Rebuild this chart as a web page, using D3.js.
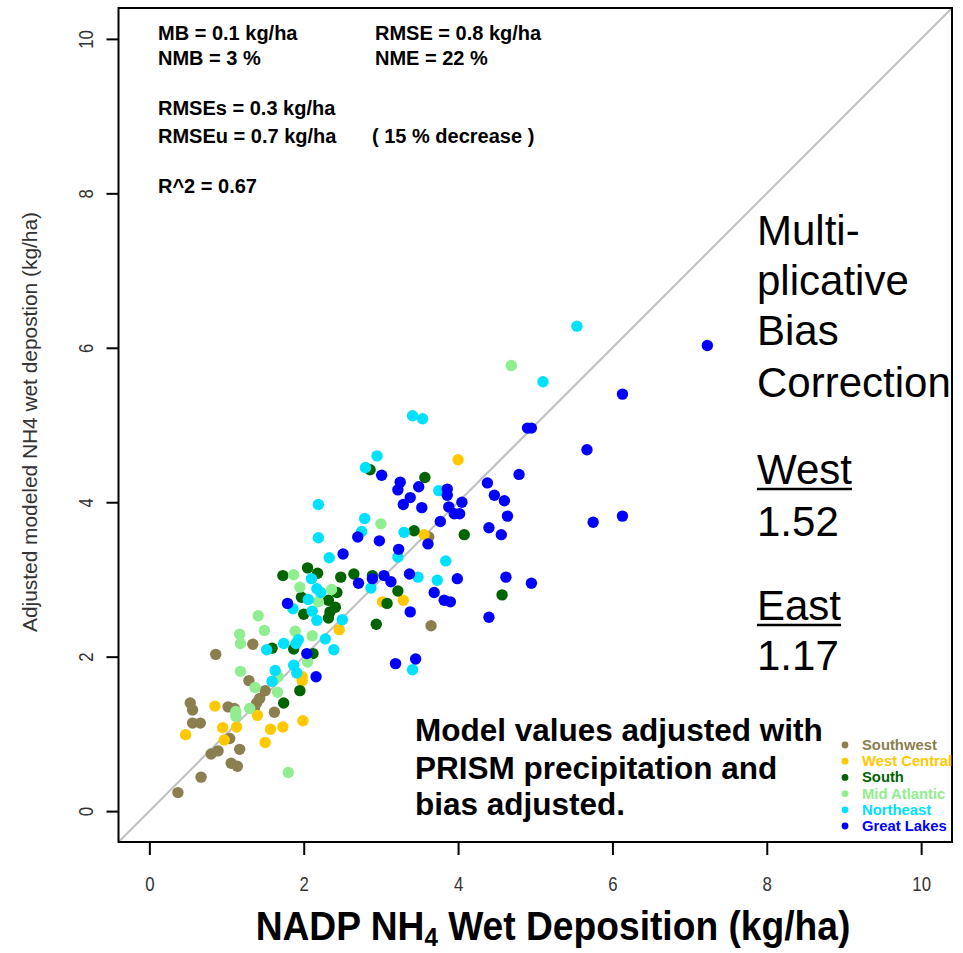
<!DOCTYPE html>
<html>
<head>
<meta charset="utf-8">
<script src="https://cdn.jsdelivr.net/npm/d3@7"></script>
<style>
  html, body { margin: 0; padding: 0; background: #fff; }
  svg { display: block; }
  text { font-family: "Liberation Sans", Arial, sans-serif; }
</style>
</head>
<body>
<svg id="chart" width="963" height="953"></svg>
<script>
// ---------------- data ----------------
const regions = ["Southwest", "West Central", "South", "Mid Atlantic", "Northeast", "Great Lakes"];
const regionColors = ["#8B7F50", "#FFC800", "#006400", "#90EE90", "#00E0FF", "#0000FF"];

const southwest = [[0.86,2.03],[1.34,2.16],[1.29,1.69],[1.50,1.56],[1.43,1.46],[1.39,1.40],[1.36,1.33],[1.62,1.28],[0.53,1.40],[0.56,1.31],[1.02,1.35],[1.10,1.33],[0.56,1.14],[0.66,1.14],[1.04,0.94],[1.17,0.80],[0.80,0.74],[0.89,0.78],[1.06,0.62],[1.14,0.58],[0.67,0.44],[0.37,0.24],[3.65,2.40],[3.62,3.55]];
const westCentral = [[4.00,4.55],[3.56,3.58],[3.02,2.71],[3.29,2.73],[2.46,2.35],[1.98,1.74],[1.98,1.69],[1.40,1.24],[0.85,1.36],[0.47,0.99],[0.95,1.08],[1.13,1.09],[1.57,1.06],[1.73,1.09],[1.99,1.17],[0.97,0.92],[1.50,0.89]];
const south = [[3.57,4.32],[2.86,4.42],[3.43,3.63],[4.08,3.58],[4.57,2.80],[2.94,2.42],[3.22,2.85],[3.08,2.69],[2.89,3.05],[2.65,3.07],[2.48,3.03],[2.05,3.15],[2.18,3.08],[1.73,3.05],[2.43,2.83],[1.97,2.77],[2.32,2.73],[2.41,2.64],[2.34,2.58],[2.00,2.55],[2.32,2.50],[1.59,2.11],[1.87,2.10],[2.12,2.04],[1.95,1.56],[1.74,1.40]];
const midAtlantic = [[4.69,5.77],[3.00,3.72],[1.87,3.06],[1.95,2.90],[2.36,2.87],[2.19,2.71],[1.41,2.53],[1.49,2.34],[1.17,2.29],[1.18,2.17],[1.89,2.33],[2.11,2.27],[2.05,1.93],[1.18,1.81],[1.67,1.74],[1.37,1.60],[1.66,1.54],[1.30,1.33],[1.12,1.29],[1.12,1.23],[1.80,0.50]];
const northeast = [[5.54,6.28],[5.10,5.56],[3.41,5.12],[3.54,5.08],[2.95,4.60],[2.80,4.45],[3.75,4.15],[2.19,3.97],[2.79,3.79],[2.75,3.62],[2.19,3.54],[2.33,3.28],[3.30,3.61],[3.22,3.29],[3.84,3.24],[3.48,3.03],[3.73,2.99],[2.10,3.01],[2.17,2.88],[2.22,2.83],[2.87,2.89],[2.06,2.74],[1.86,2.62],[2.11,2.59],[2.17,2.47],[2.50,2.48],[1.74,2.17],[1.93,2.22],[1.90,2.17],[2.28,2.23],[1.52,2.09],[2.39,2.09],[1.87,1.89],[1.91,1.79],[1.63,1.82],[1.59,1.68],[3.41,1.83]];
const greatLakes = [[7.23,6.03],[6.13,5.40],[4.90,4.96],[4.95,4.96],[5.67,4.68],[3.01,4.35],[3.25,4.26],[3.22,4.16],[3.49,4.20],[3.38,4.06],[3.29,3.97],[3.53,3.93],[3.86,4.17],[3.86,4.09],[4.05,4.00],[3.88,3.94],[3.95,3.85],[4.02,3.85],[3.77,3.75],[4.38,4.25],[4.47,4.09],[4.60,4.02],[4.64,3.82],[4.79,4.36],[5.75,3.74],[6.13,3.82],[4.40,3.67],[4.56,3.58],[2.70,3.55],[2.98,3.50],[3.61,3.46],[3.23,3.39],[2.51,3.33],[3.37,3.07],[3.99,3.01],[4.62,3.03],[4.95,2.95],[2.89,3.01],[3.04,3.05],[3.13,2.97],[2.71,2.95],[3.69,2.83],[3.82,2.73],[3.90,2.71],[3.38,2.58],[4.40,2.51],[1.79,2.69],[2.04,2.04],[2.16,1.74],[3.19,1.91],[3.45,1.97]];
const seriesData = [southwest, westCentral, south, midAtlantic, northeast, greatLakes];

const xTicks = [0, 2, 4, 6, 8, 10];
const yTicks = [0, 2, 4, 6, 8, 10];
const axisRange = [-0.4, 10.4];

const statsLeft = ["MB = 0.1 kg/ha", "NMB = 3 %", "", "RMSEs = 0.3 kg/ha", "RMSEu = 0.7 kg/ha", "", "R^2 = 0.67"];
const statsRight = ["RMSE = 0.8 kg/ha", "NME = 22 %", "", "", "( 15 % decrease )"];
const correctionLines = ["Multi-", "plicative", "Bias", "Correction"];
const factorLabels = ["West", "East"];
const factorValues = ["1.52", "1.17"];
const noteLines = ["Model values adjusted with", "PRISM precipitation and", "bias adjusted."];

// ---------------- layout ----------------
const svg = d3.select("#chart");
const box = { left: 118.5, right: 952, top: 8, bottom: 842 };

const x = d3.scaleLinear().domain(axisRange).range([box.left, box.right]);
const y = d3.scaleLinear().domain(axisRange).range([box.bottom, box.top]);

svg.append("defs").append("clipPath").attr("id", "plotclip")
  .append("rect").attr("x", box.left).attr("y", box.top)
  .attr("width", box.right - box.left).attr("height", box.bottom - box.top);

// 1:1 line
svg.append("line")
  .attr("x1", x(axisRange[0])).attr("y1", y(axisRange[0]))
  .attr("x2", x(axisRange[1])).attr("y2", y(axisRange[1]))
  .attr("stroke", "#BEBEBE").attr("stroke-width", 2);

// points
const plot = svg.append("g").attr("clip-path", "url(#plotclip)");
seriesData.forEach((pts, i) => {
  plot.append("g").selectAll("circle").data(pts).join("circle")
    .attr("cx", d => x(d[0])).attr("cy", d => y(d[1]))
    .attr("r", 5.7).attr("fill", regionColors[i]);
});

// box
svg.append("rect")
  .attr("x", box.left).attr("y", box.top)
  .attr("width", box.right - box.left).attr("height", box.bottom - box.top)
  .attr("fill", "none").attr("stroke", "#000").attr("stroke-width", 2);

// axes
const xAxis = svg.append("g").attr("transform", `translate(0,${box.bottom})`)
  .call(d3.axisBottom(x).tickValues(xTicks).tickSize(13).tickPadding(22).tickFormat(d3.format("d")));
xAxis.select(".domain").remove();
xAxis.selectAll(".tick line").attr("stroke", "#000").attr("stroke-width", 2);
xAxis.selectAll(".tick text")
  .attr("font-family", "Liberation Sans, Arial, sans-serif").attr("font-size", 20).attr("fill", "#333")
  .attr("transform", "scale(0.84,1)");

const yAxis = svg.append("g").attr("transform", `translate(${box.left},0)`)
  .call(d3.axisLeft(y).tickValues(yTicks).tickSize(12).tickFormat(d3.format("d")));
yAxis.select(".domain").remove();
yAxis.selectAll(".tick line").attr("stroke", "#000").attr("stroke-width", 2);
yAxis.selectAll(".tick text")
  .attr("font-family", "Liberation Sans, Arial, sans-serif").attr("font-size", 20).attr("fill", "#333")
  .attr("x", null).attr("dy", null)
  .attr("text-anchor", "middle")
  .attr("transform", "translate(-26,0) rotate(-90) scale(0.84,1)");

// y axis title (condensed)
const yTitle = svg.append("text")
  .attr("text-anchor", "middle")
  .attr("font-size", 20).attr("fill", "#333")
  .text("Adjusted modeled NH4 wet depostion (kg/ha)");
{
  const w = yTitle.node().getComputedTextLength();
  const sx = 420 / w;
  yTitle.attr("transform", `translate(37,${(box.top + box.bottom) / 2 - 3}) rotate(-90) scale(${sx},1)`);
}

// x axis title with subscript (condensed)
const xt = svg.append("text")
  .attr("text-anchor", "middle")
  .attr("font-weight", "bold").attr("font-size", 40).attr("fill", "#000");
xt.append("tspan").text("NADP NH");
xt.append("tspan").attr("font-size", 26).attr("dy", 6).text("4");
xt.append("tspan").attr("dy", -6).text(" Wet Deposition (kg/ha)");
{
  const w = xt.node().getBBox().width;
  const sx = 595 / w;
  xt.attr("transform", `translate(553,940) scale(${sx},1)`);
}

// stats text
const statY = [40, 65, 0, 115, 143, 0, 193];
statsLeft.forEach((t, i) => {
  if (!t) return;
  svg.append("text").attr("x", 158).attr("y", statY[i])
    .attr("font-weight", "bold").attr("font-size", 20).text(t);
});
statsRight.forEach((t, i) => {
  if (!t) return;
  svg.append("text").attr("x", i < 2 ? 375 : 372).attr("y", statY[i])
    .attr("font-weight", "bold").attr("font-size", 20).text(t);
});

// right-side correction text
const corrY = [245, 295, 345, 397];
correctionLines.forEach((t, i) => {
  svg.append("text").attr("x", 757).attr("y", corrY[i])
    .attr("font-size", 42).attr("fill", "#000").text(t);
});
const facLabY = [484, 620];
const facValY = [536, 670];
factorLabels.forEach((t, i) => {
  const tx = svg.append("text").attr("x", 757).attr("y", facLabY[i])
    .attr("font-size", 42).attr("fill", "#000").text(t);
  const w = tx.node().getComputedTextLength();
  svg.append("line").attr("x1", 757).attr("x2", 757 + w)
    .attr("y1", facLabY[i] + 5).attr("y2", facLabY[i] + 5)
    .attr("stroke", "#000").attr("stroke-width", 2.5);
  svg.append("text").attr("x", 757).attr("y", facValY[i])
    .attr("font-size", 42).attr("fill", "#000").text(factorValues[i]);
});

// note
const noteY = [741, 779, 815];
noteLines.forEach((t, i) => {
  svg.append("text").attr("x", 415).attr("y", noteY[i])
    .attr("font-weight", "bold").attr("font-size", 31.5).attr("fill", "#000").text(t);
});

// legend
const leg = svg.append("g").attr("clip-path", "url(#plotclip)");
regions.forEach((r, i) => {
  const ly = 745 + i * 16.2;
  leg.append("circle").attr("cx", 845).attr("cy", ly).attr("r", 3.4).attr("fill", regionColors[i]);
  leg.append("text").attr("x", 862).attr("y", ly + 5)
    .attr("font-weight", "bold").attr("font-size", 14.8).attr("fill", regionColors[i]).text(r);
});
</script>
</body>
</html>
